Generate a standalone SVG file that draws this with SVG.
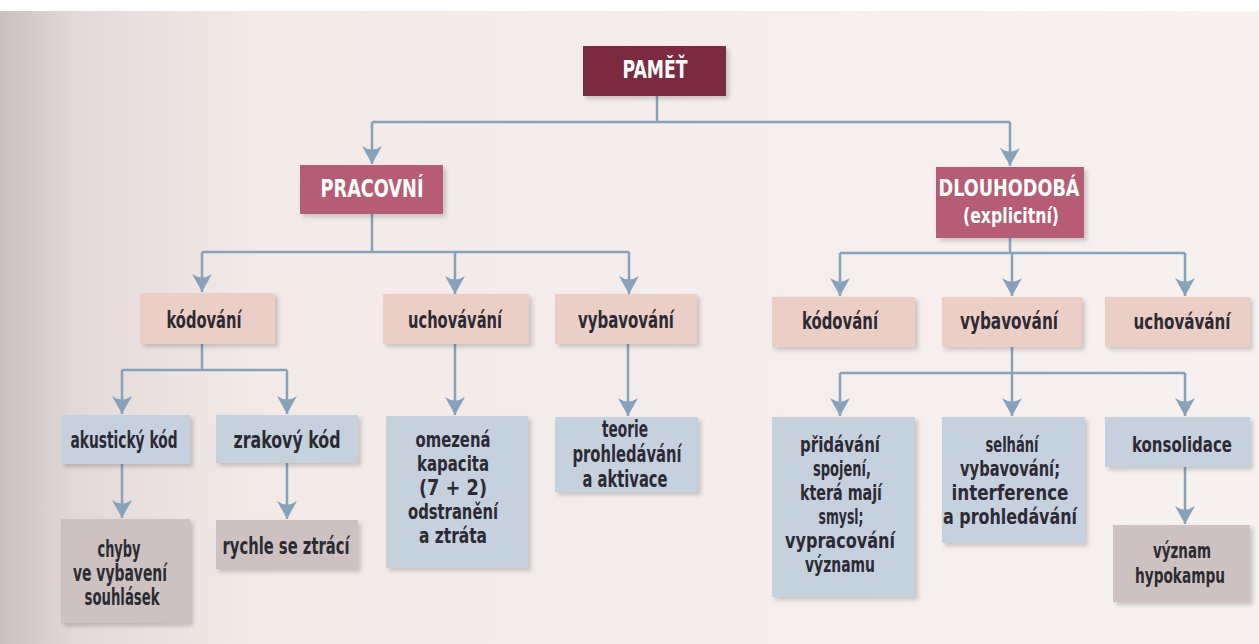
<svg xmlns="http://www.w3.org/2000/svg" width="1259" height="644" viewBox="0 0 1259 644">
<defs>
<linearGradient id="gutter" x1="0" y1="0" x2="1" y2="0">
<stop offset="0" stop-color="#c9c0c0"/>
<stop offset="0.06" stop-color="#e2d9d8"/>
<stop offset="0.2" stop-color="#f3eae8"/>
<stop offset="1" stop-color="#f7f1ef"/>
</linearGradient>
<filter id="sh" x="-10%" y="-10%" width="130%" height="130%">
<feDropShadow dx="3" dy="3" stdDeviation="2" flood-color="#000" flood-opacity="0.18"/>
</filter>
<marker id="ah" viewBox="-11 -19 22 20" refX="0" refY="0" markerWidth="22" markerHeight="20" markerUnits="userSpaceOnUse" orient="0">
<path d="M0,0 L-10,-18 Q0,-11 10,-18 Z" fill="#86a3bb"/>
</marker>
<style>
.c{fill:none;stroke:#86a3bb;stroke-width:2.5}
.a{marker-end:url(#ah)}
.n rect{filter:url(#sh)}
.dark{fill:#7c2a40}
.rose{fill:#b65c75}
.pink{fill:#ebcfc7}
.blue{fill:#c6d1de}
.grey{fill:#cdc1c1}
text{font-family:"DejaVu Sans Condensed","DejaVu Sans",sans-serif;font-weight:bold;text-anchor:middle}
.w{fill:#fff;font-size:24px}
.t{fill:#2c2b33;font-size:23px}
.r{font-size:21px}
.m{font-size:22px}
</style>
</defs>
<rect x="0" y="0" width="1259" height="644" fill="url(#gutter)"/>
<rect x="0" y="0" width="1259" height="11" fill="#ffffff"/>

<g id="connectors">
<path class="c" d="M657,96 V122 M372,122 H1010"/>
<path class="c a" d="M372,122 V164"/>
<path class="c a" d="M1010,122 V166"/>
<path class="c" d="M372,214 V252 M202,252 H629"/>
<path class="c a" d="M202,252 V292"/>
<path class="c a" d="M455,252 V294"/>
<path class="c a" d="M629,252 V294"/>
<path class="c" d="M202,344 V370 M122,370 H287"/>
<path class="c a" d="M122,370 V414"/>
<path class="c a" d="M287,370 V414"/>
<path class="c a" d="M122,464 V518"/>
<path class="c a" d="M287,463 V519"/>
<path class="c a" d="M455,344 V415"/>
<path class="c a" d="M628,344 V416"/>
<path class="c" d="M1010,238 V253 M840,253 H1185"/>
<path class="c a" d="M840,253 V296"/>
<path class="c a" d="M1012,253 V296"/>
<path class="c a" d="M1185,253 V296"/>
<path class="c" d="M1012,347 V373 M840,373 H1185"/>
<path class="c a" d="M840,373 V416"/>
<path class="c a" d="M1012,373 V416"/>
<path class="c a" d="M1185,373 V416"/>
<path class="c a" d="M1185,467 V524"/>
</g>

<g id="n-pamet" class="n"><rect class="dark" x="583" y="46" width="143" height="50"/><text class="w" x="655" y="78" textLength="65" lengthAdjust="spacingAndGlyphs">PAMĚŤ</text></g>
<g id="n-pracovni" class="n"><rect class="rose" x="300" y="165" width="143" height="49"/><text class="w" x="372" y="197" textLength="103" lengthAdjust="spacingAndGlyphs">PRACOVNÍ</text></g>
<g id="n-dlouhodoba" class="n"><rect class="rose" x="936" y="167" width="148" height="71"/><text class="w" x="1009" y="196" style="font-size:23px" textLength="141" lengthAdjust="spacingAndGlyphs">DLOUHODOBÁ</text><text class="w" x="1011" y="223" style="font-size:21px" textLength="96" lengthAdjust="spacingAndGlyphs">(explicitní)</text></g>

<g id="n-kodovani-p" class="n"><rect class="pink" x="140" y="293" width="135" height="51"/><text class="t" x="204" y="328" textLength="75" lengthAdjust="spacingAndGlyphs">kódování</text></g>
<g id="n-uchovavani-p" class="n"><rect class="pink" x="383" y="294" width="146" height="50"/><text class="t" x="455" y="328" textLength="94" lengthAdjust="spacingAndGlyphs">uchovávání</text></g>
<g id="n-vybavovani-p" class="n"><rect class="pink" x="555" y="294" width="142" height="50"/><text class="t" x="626" y="328" textLength="96" lengthAdjust="spacingAndGlyphs">vybavování</text></g>

<g id="n-akusticky" class="n"><rect class="blue" x="61" y="415" width="129" height="49"/><text class="t" x="124" y="448" textLength="107" lengthAdjust="spacingAndGlyphs">akustický kód</text></g>
<g id="n-zrakovy" class="n"><rect class="blue" x="216" y="415" width="142" height="48"/><text class="t" x="287" y="448" textLength="107" lengthAdjust="spacingAndGlyphs">zrakový kód</text></g>
<g id="n-chyby" class="n"><rect class="grey" x="61" y="519" width="129" height="104"/><text class="t" x="119" y="557" textLength="43" lengthAdjust="spacingAndGlyphs">chyby</text><text class="t" x="120" y="581" textLength="94" lengthAdjust="spacingAndGlyphs">ve vybavení</text><text class="t" x="122" y="605" textLength="75" lengthAdjust="spacingAndGlyphs">souhlásek</text></g>
<g id="n-rychle" class="n"><rect class="grey" x="216" y="520" width="142" height="49"/><text class="t" x="286" y="554" textLength="127" lengthAdjust="spacingAndGlyphs">rychle se ztrácí</text></g>
<g id="n-omezena" class="n"><rect class="blue" x="386" y="416" width="142" height="152"/><text class="t m" x="453" y="447" textLength="75" lengthAdjust="spacingAndGlyphs">omezená</text><text class="t m" x="453" y="471" textLength="72" lengthAdjust="spacingAndGlyphs">kapacita</text><text class="t m" x="453" y="495" textLength="68" lengthAdjust="spacingAndGlyphs">(7 + 2)</text><text class="t m" x="453" y="519" textLength="90" lengthAdjust="spacingAndGlyphs">odstranění</text><text class="t m" x="453" y="543" textLength="68" lengthAdjust="spacingAndGlyphs">a ztráta</text></g>
<g id="n-teorie" class="n"><rect class="blue" x="555" y="417" width="143" height="75"/><text class="t" x="625" y="437" textLength="46" lengthAdjust="spacingAndGlyphs">teorie</text><text class="t" x="627" y="462" textLength="109" lengthAdjust="spacingAndGlyphs">prohledávání</text><text class="t" x="625" y="487" textLength="85" lengthAdjust="spacingAndGlyphs">a aktivace</text></g>

<g id="n-kodovani-d" class="n"><rect class="pink" x="772" y="297" width="143" height="50"/><text class="t" x="840" y="329" textLength="76" lengthAdjust="spacingAndGlyphs">kódování</text></g>
<g id="n-vybavovani-d" class="n"><rect class="pink" x="942" y="297" width="140" height="50"/><text class="t" x="1009" y="329" textLength="98" lengthAdjust="spacingAndGlyphs">vybavování</text></g>
<g id="n-uchovavani-d" class="n"><rect class="pink" x="1105" y="297" width="145" height="50"/><text class="t r" x="1182" y="329" textLength="97" lengthAdjust="spacingAndGlyphs">uchovávání</text></g>

<g id="n-pridavani" class="n"><rect class="blue" x="772" y="417" width="143" height="180"/><text class="t m" x="840" y="452" textLength="80" lengthAdjust="spacingAndGlyphs">přidávání</text><text class="t m" x="842" y="476" textLength="58" lengthAdjust="spacingAndGlyphs">spojení,</text><text class="t m" x="841" y="500" textLength="82" lengthAdjust="spacingAndGlyphs">která mají</text><text class="t m" x="841" y="524" textLength="45" lengthAdjust="spacingAndGlyphs">smysl;</text><text class="t m" x="840" y="548" textLength="110" lengthAdjust="spacingAndGlyphs">vypracování</text><text class="t m" x="840" y="572" textLength="70" lengthAdjust="spacingAndGlyphs">významu</text></g>
<g id="n-selhani" class="n"><rect class="blue" x="942" y="417" width="143" height="126"/><text class="t m" x="1012" y="452" textLength="53" lengthAdjust="spacingAndGlyphs">selhání</text><text class="t m" x="1010" y="476" textLength="100" lengthAdjust="spacingAndGlyphs">vybavování;</text><text class="t m" x="1010" y="500" textLength="117" lengthAdjust="spacingAndGlyphs">interference</text><text class="t m" x="1010" y="524" textLength="134" lengthAdjust="spacingAndGlyphs">a prohledávání</text></g>
<g id="n-konsolidace" class="n"><rect class="blue" x="1105" y="417" width="145" height="50"/><text class="t r" x="1182" y="452" textLength="100" lengthAdjust="spacingAndGlyphs">konsolidace</text></g>
<g id="n-vyznam" class="n"><rect class="grey" x="1113" y="525" width="137" height="77"/><text class="t r" x="1182" y="558" textLength="58" lengthAdjust="spacingAndGlyphs">význam</text><text class="t r" x="1180" y="583" textLength="90" lengthAdjust="spacingAndGlyphs">hypokampu</text></g>
</svg>
